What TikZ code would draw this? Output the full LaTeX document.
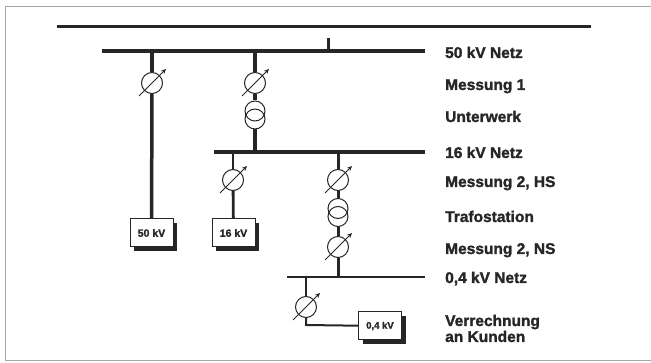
\documentclass[tikz,border=0pt]{standalone}
\usepackage{fontspec}
\setmainfont{Liberation Sans}
\newfontfamily\heavy{Liberation Sans Bold}[FakeBold=1.6]
\usetikzlibrary{calc,arrows.meta,shadows}
\newcommand\meterarrow[1]{\draw[marr] ($(#1)+(-13,13)$) -- ($(#1)+(14,-14)$);}
\begin{document}
\begin{tikzpicture}[x=1pt,y=-1pt,
  meter/.style={circle,draw=black!85,line width=1pt,minimum size=21pt,inner sep=0pt,fill=white},
  trafo/.style={circle,draw=black!85,line width=1pt,minimum size=20pt,inner sep=0pt},
  marr/.style={draw=black!85,line width=1pt,-{Stealth[length=5pt,width=4.5pt]}},
  vbox/.style={rectangle,draw=black!85,line width=1pt,fill=white,minimum width=43pt,minimum height=28pt,inner sep=0pt,text=black!85,
    font=\heavy\fontsize{10.5}{12}\selectfont,
    drop shadow={shadow xshift=4pt,shadow yshift=-4pt,fill=black!85,opacity=1}},
  lbl/.style={anchor=base west,inner sep=0pt,text=black!85,font=\heavy\fontsize{15.5}{13}\selectfont},
  bus/.style={draw=black!85,line width=#1},
]
\useasboundingbox (0,0) rectangle (651,363);
% frame
\draw[gray!70,line width=1pt] (651,7) -- (5,7) -- (5,361) -- (651,361);

% bus bars
\coordinate (topL) at (57,27);  \coordinate (topR) at (591,27);
\coordinate (b50L) at (102,51); \coordinate (b50R) at (425,51);
\coordinate (b16L) at (214,152); \coordinate (b16R) at (425,152);
\coordinate (b04L) at (287,277); \coordinate (b04R) at (425,277);
\draw[bus=3pt] (topL) -- (topR);
\draw[bus=4.5pt] (b50L) -- (b50R);
\draw[bus=3.5pt] (b16L) -- (b16R);
\draw[bus=2pt] (b04L) -- (b04R);
\coordinate (stubT) at (328,38); \coordinate (stubB) at (328,51);
\draw[bus=3pt] (stubT) -- (stubB);

% junctions
\coordinate (j1) at (152,51);
\coordinate (j2) at (255,51);
\coordinate (j2b) at (255,152);
\coordinate (j3) at (233,152);
\coordinate (j4) at (338,152);
\coordinate (j4b) at (338,277);
\coordinate (j5) at (306,277);
\coordinate (k5) at (306,325);

% meters
\node[meter] (m1) at (152,83) {};
\node[meter] (m2) at (255,83) {};
\node[meter] (m3) at (233,180) {};
\node[meter] (m4) at (338,180) {};
\node[meter] (m5) at (338,247) {};
\node[meter] (m6) at (306,307) {};
% transformers
\node[trafo] (t1a) at (255,111) {};
\node[trafo] (t1b) at (255,119) {};
\node[trafo] (t2a) at (338,208.5) {};
\node[trafo] (t2b) at (338,216.5) {};
% boxes
\node[vbox] (x50) at (151.5,233) {50 kV};
\node[vbox] (x16) at (233.5,233) {16 kV};
\node[vbox,font=\heavy\fontsize{9.5}{11}\selectfont] (x04) at (380,326) {0,4 kV};

% branches
\draw[bus=3.5pt] (j1) -- (m1);
\draw[bus=3.5pt] (m1) -- (x50);
\draw[bus=3.5pt] (j2) -- (m2);
\draw[bus=3.5pt] (m2) -- (t1a);
\draw[bus=3.5pt] (t1b) -- (j2b);
\draw[bus=2.8pt] (j3) -- (m3);
\draw[bus=2.8pt] (m3) -- (x16);
\draw[bus=3pt] (j4) -- (m4);
\draw[bus=3pt] (m4) -- (t2a);
\draw[bus=3pt] (t2b) -- (m5);
\draw[bus=3pt] (m5) -- (j4b);
\draw[bus=2pt] (j5) -- (m6);
\draw[bus=2pt,line join=miter] (m6) -- (k5) -- (x04);

% meter arrows
\meterarrow{m1}
\meterarrow{m2}
\meterarrow{m3}
\meterarrow{m4}
\meterarrow{m5}
\meterarrow{m6}

% labels
\node[lbl] (l1) at (445,58) {50 kV Netz};
\node[lbl] (l2) at (445,90) {Messung 1};
\node[lbl] (l3) at (445,122) {Unterwerk};
\node[lbl] (l4) at (445,158) {16 kV Netz};
\node[lbl] (l5) at (445,187) {Messung 2, HS};
\node[lbl] (l6) at (445,222) {Trafostation};
\node[lbl] (l7) at (445,254) {Messung 2, NS};
\node[lbl] (l8) at (445,283) {0,4 kV Netz};
\node[lbl,text depth=0pt] (l9) at (445,326) {Verrechnung};
\node[lbl] (l10) at (445,342) {an Kunden};
\end{tikzpicture}
\end{document}
